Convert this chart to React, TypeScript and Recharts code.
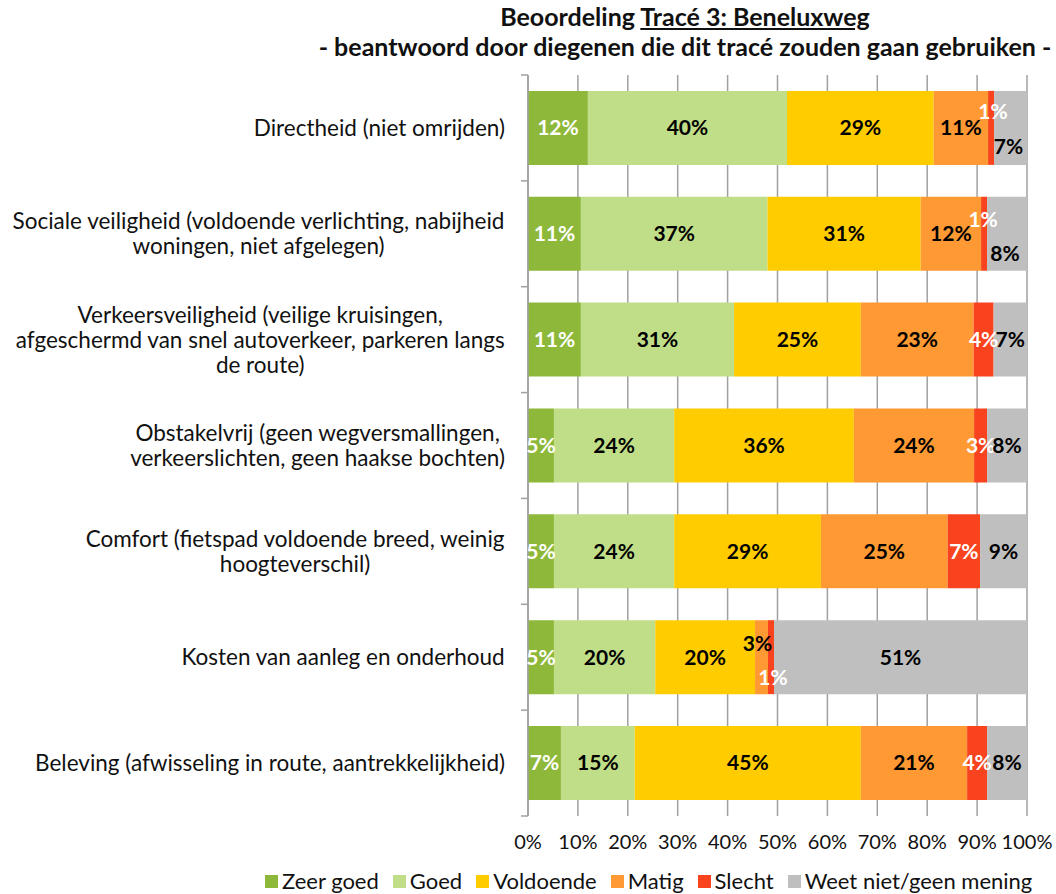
import React from "react";
import { BarChart, Bar, XAxis, YAxis, CartesianGrid, LabelList } from "recharts";

const CATEGORIES = [
  "Directheid",
  "Sociale veiligheid",
  "Verkeersveiligheid",
  "Obstakelvrij",
  "Comfort",
  "Kosten",
  "Beleving",
];

// wrapped tick label lines, one list per category
const CATEGORY_LINES = [
  ["Directheid (niet omrijden)"],
  ["Sociale veiligheid (voldoende verlichting, nabijheid", "woningen, niet afgelegen)"],
  ["Verkeersveiligheid (veilige kruisingen,", "afgeschermd van snel autoverkeer, parkeren langs", "de route)"],
  ["Obstakelvrij (geen wegversmallingen,", "verkeerslichten, geen haakse bochten)"],
  ["Comfort (fietspad voldoende breed, weinig", "hoogteverschil)"],
  ["Kosten van aanleg en onderhoud"],
  ["Beleving (afwisseling in route, aantrekkelijkheid)"],
];

const ZEER_GOED = [12.0, 10.6, 10.6, 5.2, 5.2, 5.2, 6.6];
const GOED = [39.9, 37.4, 30.7, 24.1, 24.1, 20.3, 14.8];
const VOLDOENDE = [29.4, 30.7, 25.4, 36.0, 29.4, 20.0, 45.3];
const MATIG = [10.9, 12.1, 22.6, 24.1, 25.4, 2.6, 21.3];
const SLECHT = [1.2, 1.2, 4.0, 2.6, 6.5, 1.2, 4.0];
const WEET_NIET = [6.6, 8.0, 6.7, 8.0, 9.4, 50.7, 8.0];

const X_TICKS = [0, 10, 20, 30, 40, 50, 60, 70, 80, 90, 100];

const SERIES = [
  { key: "zeerGoed", name: "Zeer goed", color: "#8DB83A", text: "#fff" },
  { key: "goed", name: "Goed", color: "#C0DE88", text: "#000" },
  { key: "voldoende", name: "Voldoende", color: "#FFCC00", text: "#000" },
  { key: "matig", name: "Matig", color: "#FF9933", text: "#000" },
  { key: "slecht", name: "Slecht", color: "#F8431E", text: "#fff" },
  { key: "weetNiet", name: "Weet niet/geen mening", color: "#BFBFBF", text: "#000" },
];

// small labels that were moved by hand in the original so they don't overlap
const LABEL_NUDGES = [
  { row: 0, key: "slecht", dx: 2, dy: -16 },
  { row: 0, key: "weetNiet", dx: -2, dy: 19 },
  { row: 1, key: "slecht", dx: -1, dy: -14 },
  { row: 1, key: "weetNiet", dx: -2, dy: 20 },
  { row: 5, key: "matig", dx: -4, dy: -14 },
  { row: 5, key: "slecht", dx: 2, dy: 20 },
];

const FONT = "Lato, Carlito, 'Liberation Sans', sans-serif";
const LABEL_SIZE = 22.5;
const LINE_HEIGHT = 25;
const PLOT_TOP = 75;
const PLOT_BOTTOM_GAP = 78;
const CHART_H = 894;
const BAND = (CHART_H - PLOT_TOP - PLOT_BOTTOM_GAP) / CATEGORIES.length;

const rows = CATEGORIES.map((name, i) => ({
  name,
  zeerGoed: ZEER_GOED[i],
  goed: GOED[i],
  voldoende: VOLDOENDE[i],
  matig: MATIG[i],
  slecht: SLECHT[i],
  weetNiet: WEET_NIET[i],
}));

let measureCtx: CanvasRenderingContext2D | null = null;
function textWidth(s: string) {
  if (!measureCtx) measureCtx = document.createElement("canvas").getContext("2d");
  if (!measureCtx) return s.length * LABEL_SIZE * 0.5;
  measureCtx.font = `${LABEL_SIZE}px Lato`;
  return measureCtx.measureText(s).width;
}

function CategoryTick(props: any) {
  const { x, y, payload } = props;
  const idx = CATEGORIES.indexOf(payload.value);
  const lines = CATEGORY_LINES[idx] ?? [payload.value];
  const maxW = Math.max(...lines.map(textWidth));
  const cx = x - maxW / 2;
  const firstY = y - ((lines.length - 1) * LINE_HEIGHT) / 2;
  const axisX = x + 23;
  return (
    <g>
      <line x1={axisX - 7} x2={axisX} y1={y - BAND / 2} y2={y - BAND / 2} stroke="#A0A0A0" strokeWidth={1.5} />
      {idx === CATEGORIES.length - 1 && (
        <line x1={axisX - 7} x2={axisX} y1={y + BAND / 2} y2={y + BAND / 2} stroke="#A0A0A0" strokeWidth={1.5} />
      )}
      <text textAnchor="middle" fontSize={LABEL_SIZE} fill="#111" fontFamily={FONT}>
        {lines.map((l, i) => (
          <tspan key={i} x={cx} y={firstY + i * LINE_HEIGHT} dy="0.35em">
            {l}
          </tspan>
        ))}
      </text>
    </g>
  );
}

function makeLabel(key: string, color: string) {
  return (props: any) => {
    const { x, y, width, height, value, index } = props;
    if (value == null) return null;
    const nudge = LABEL_NUDGES.find((n) => n.row === index && n.key === key);
    const dx = nudge ? nudge.dx : 0;
    const dy = nudge ? nudge.dy : 0;
    return (
      <text
        x={x + width / 2 + dx}
        y={y + height / 2 + dy}
        dy="0.35em"
        textAnchor="middle"
        fontSize={21}
        fontWeight="bold"
        fill={color}
        fontFamily={FONT}
      >
        {Math.round(value)}%
      </text>
    );
  };
}

export default function App() {
  return (
    <div style={{ position: "relative", width: 1056, height: CHART_H, fontFamily: FONT, background: "#fff" }}>
      <style>{`body{margin:0}`}</style>
      <div
        style={{
          position: "absolute",
          left: 300,
          width: 770,
          top: 1,
          textAlign: "center",
          fontWeight: "bold",
          fontSize: 25,
          lineHeight: "30px",
          color: "#111",
        }}
      >
        <div>
          Beoordeling <span style={{ textDecoration: "underline" }}>Tracé 3: Beneluxweg</span>
        </div>
        <div>- beantwoord door diegenen die dit tracé zouden gaan gebruiken -</div>
      </div>
      <BarChart
        width={1056}
        height={CHART_H}
        data={rows}
        layout="vertical"
        margin={{ top: PLOT_TOP, right: 29, left: 0, bottom: 0 }}
        barCategoryGap="15%"
      >
        <CartesianGrid horizontal={false} stroke="#A0A0A0" strokeWidth={1.5} />
        <XAxis
          type="number"
          domain={[0, 100]}
          ticks={X_TICKS}
          tickFormatter={(v) => `${v}%`}
          axisLine={false}
          tickLine={false}
          tickSize={0}
          tickMargin={19}
          height={PLOT_BOTTOM_GAP}
          tick={{ fontSize: 20, fill: "#111" }}
          interval={0}
        />
        <YAxis
          type="category"
          dataKey="name"
          width={528}
          axisLine={{ stroke: "#A0A0A0", strokeWidth: 1.5 }}
          tickLine={false}
          tickSize={0}
          tickMargin={23}
          tick={<CategoryTick />}
          interval={0}
        />
        {SERIES.map((s) => (
          <Bar key={s.key} dataKey={s.key} name={s.name} stackId="a" fill={s.color} isAnimationActive={false}>
            <LabelList dataKey={s.key} content={makeLabel(s.key, s.text)} />
          </Bar>
        ))}
      </BarChart>
      <div
        style={{
          position: "absolute",
          top: 868,
          left: 265,
          display: "flex",
          gap: 14,
          fontSize: 22,
          lineHeight: "26px",
          color: "#111",
        }}
      >
        {SERIES.map((s) => (
          <div key={s.key} style={{ display: "flex", alignItems: "center", whiteSpace: "nowrap" }}>
            <span style={{ width: 13, height: 13, background: s.color, display: "inline-block", marginRight: 4 }} />
            <span>{s.name}</span>
          </div>
        ))}
      </div>
    </div>
  );
}
